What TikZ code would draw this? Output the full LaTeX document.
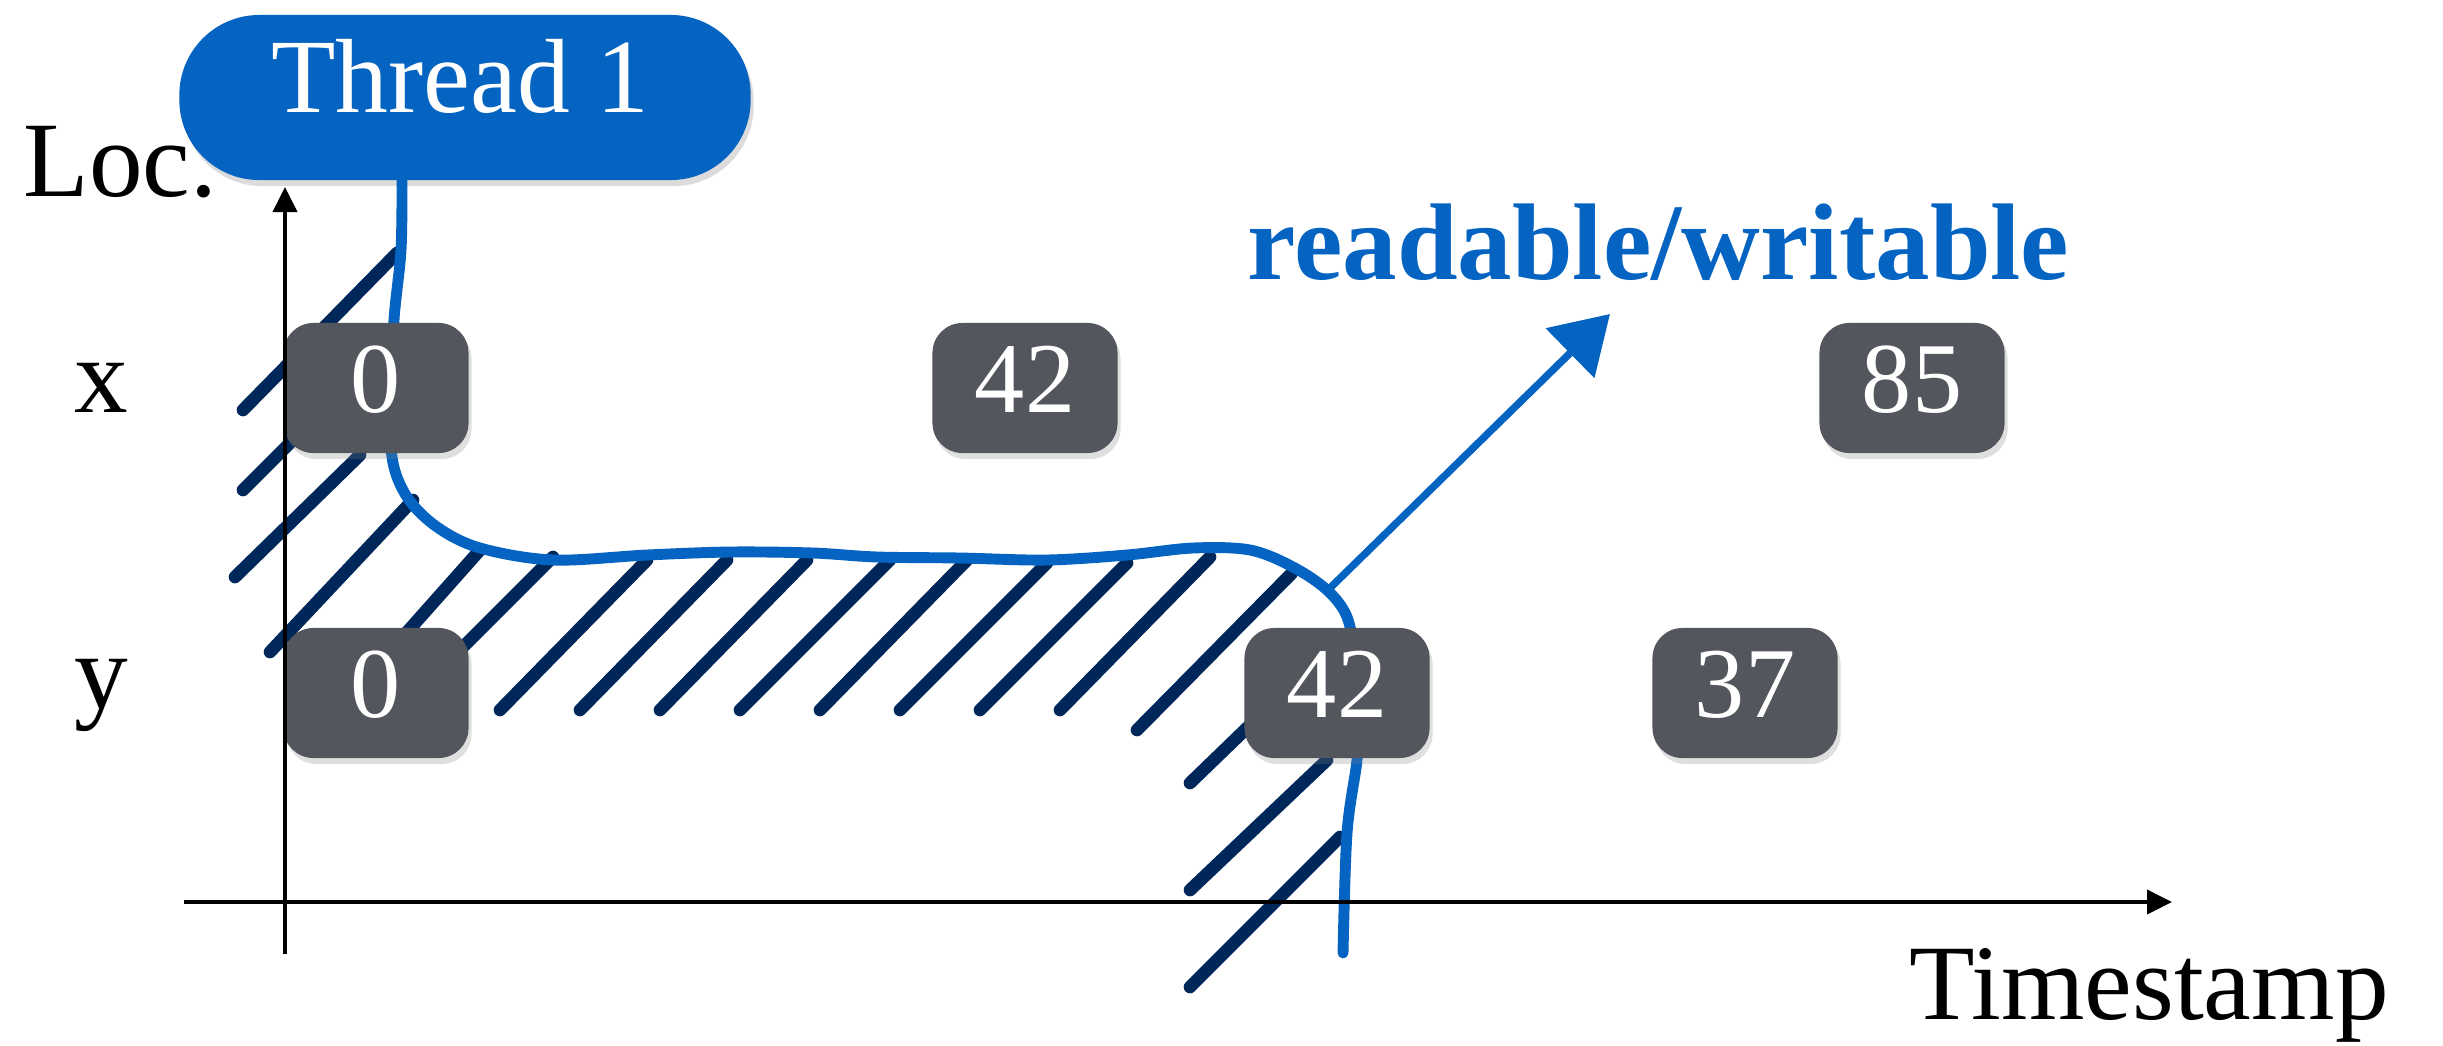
\documentclass[tikz,border=0pt]{standalone}
\usepackage{fontspec}
\setmainfont{Liberation Serif}
\usetikzlibrary{arrows.meta,shadows}
\definecolor{tblue}{HTML}{0563C1}
\definecolor{hatchc}{HTML}{00275A}
\definecolor{boxc}{HTML}{53575D}
\begin{document}
\begin{tikzpicture}[x=0.01cm,y=-0.01cm,
  valbox/.style={fill=boxc, rounded corners=0.3cm, minimum width=1.85cm, minimum height=1.30cm,
    text=white, font=\fontsize{28.5}{30}\selectfont, inner sep=0pt, text depth=5pt,
    drop shadow={opacity=0.25, shadow xshift=0.03cm, shadow yshift=-0.06cm}},
  pill/.style={fill=tblue, rounded corners=0.8cm, minimum width=5.71cm, minimum height=1.65cm,
    inner sep=0pt, drop shadow={opacity=0.28, shadow xshift=0.03cm, shadow yshift=-0.06cm}},
  pilltext/.style={text=white, font=\fontsize{30}{32}\selectfont, inner sep=0pt},
  lbl/.style={font=\fontsize{30.5}{32}\selectfont, inner sep=0pt},
  hatch/.style={draw=hatchc, line width=3.6pt, line cap=round},
  thread/.style={draw=tblue, line width=3.1pt, line cap=round, line join=round},
  tarrow/.style={draw=tblue, line width=2.1pt, -{Triangle[length=0.56cm, width=0.68cm]}},
  axis/.style={draw=black, line width=1.1pt, -{Triangle[length=0.25cm, width=0.24cm]}}
]
\useasboundingbox (0,0) rectangle (2443,1045);

% hatching
\draw[hatch] (243,410) -- (397,253);
\draw[hatch] (243,490) -- (330,403);
\draw[hatch] (235,577) -- (360,455);
\draw[hatch] (270,652) -- (413,500);
\draw[hatch] (400,640) -- (480,550);
\draw[hatch] (460,650) -- (553,557);
\draw[hatch] (500,710) -- (647,560);
\draw[hatch] (580,710) -- (727,560);
\draw[hatch] (660,710) -- (807,560);
\draw[hatch] (740,710) -- (890,560);
\draw[hatch] (820,710) -- (967,560);
\draw[hatch] (900,710) -- (1047,563);
\draw[hatch] (980,710) -- (1127,563);
\draw[hatch] (1060,710) -- (1210,557);
\draw[hatch] (1137,730) -- (1292,573);
\draw[hatch] (1190,783) -- (1250,725);
\draw[hatch] (1190,890) -- (1327,760);
\draw[hatch] (1190,987) -- (1340,837);

% thread path
\node[pill] (t1) at (465,97.5) {};
\node[pilltext, anchor=base] (t1txt) at (460,112) {Thread 1};
\draw[thread] plot[smooth, tension=0.55] coordinates {
  (402,180) (401,250) (394,320) (392,390) (392,457) (407,497) (437,527) (480,548)
  (553,560) (647,555) (730,552) (813,553) (877,557) (960,558) (1047,560) (1127,555)
  (1193,548) (1250,550) (1293,567) (1327,590) (1347,617) (1355,660) (1358,720)
  (1357,760) (1347,833) (1343,953)};

\coordinate (astart) at (1330,588);
\coordinate (atip) at (1610,314);
\draw[tarrow] (astart) -- (atip);
\node[anchor=base west, inner sep=0pt, text=tblue, font=\fontsize{31}{33}\selectfont\bfseries] (rw) at (1247,279) {readable/writable};

% value boxes
\node[valbox] (x0) at (376,388) {0};
\node[valbox] (x42) at (1025,388) {42};
\node[valbox] (x85) at (1912,388) {85};
\node[valbox] (y0) at (376,693) {0};
\node[valbox] (y42) at (1337,693) {42};
\node[valbox] (y37) at (1745,693) {37};

% axes
\coordinate (yb) at (285,954);
\coordinate (yt) at (285,187);
\coordinate (xl) at (184,902);
\coordinate (xr) at (2172,902);
\draw[axis] (yb) -- (yt);
\draw[axis] (xl) -- (xr);

% labels
\node[lbl, anchor=base west] (loc) at (23,196) {Loc.};
\node[lbl, anchor=base] (lx) at (101,412) {x};
\node[lbl, anchor=base] (ly) at (101,708) {y};
\node[lbl, anchor=base west] (ts) at (1909,1019) {Timestamp};
\end{tikzpicture}
\end{document}
